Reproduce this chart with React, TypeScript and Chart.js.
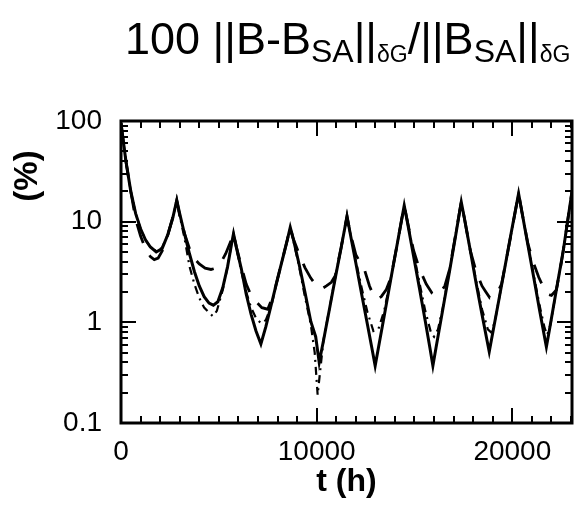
import React, { useEffect, useRef } from "react";
import { Chart, registerables } from "chart.js";

Chart.register(...registerables);

// ---------- data ----------
const solidT = [0,250,500,750,1000,1250,1500,1800,2100,2400,2650,2850,3000,3250,3500,3750,4000,4250,4500,4720,4950,5200,5450,5650,5750,5900,6150,6400,6650,6900,7150,7400,7700,8000,8300,8500,8650,8800,9100,9400,9700,9950,10130,10350,10650,10950,11250,11550,11700,12000,12300,12600,12850,12990,13150,13450,13800,14150,14475,14650,14950,15250,15550,15800,15940,16100,16450,16800,17100,17390,17550,17850,18150,18450,18700,18820,18950,19300,19650,19950,20320,20500,20800,21100,21400,21620,21740,21900,22250,22600,23050];
const solidV = [95,40,20,12,8.5,6.6,5.6,5.0,5.4,7.5,11,16.3,12,7.5,4.8,3.2,2.3,1.8,1.55,1.48,1.6,2.2,3.6,6,7.6,5.5,3.4,1.9,1.2,0.82,0.61,0.9,1.55,2.7,4.6,6.6,8.8,6.8,3.8,2.0,1.02,0.72,0.40,0.66,1.34,2.75,5.5,11.3,7.9,3.9,1.9,0.94,0.52,0.37,0.55,1.15,2.75,6.5,14.5,9.6,4.6,2.2,1.03,0.54,0.37,0.56,1.36,3.3,7.2,15.7,10.8,5.2,2.45,1.2,0.67,0.51,0.7,1.62,3.8,7.9,19,12.2,5.8,2.75,1.3,0.76,0.57,0.85,2.1,5.1,20];

const dashT = [0,250,500,750,1000,1250,1500,1700,1900,2150,2400,2650,2850,3000,3250,3500,3750,4000,4300,4600,4850,5100,5350,5600,5750,5900,6150,6400,6650,6900,7200,7500,7800,8000,8300,8500,8650,8800,9100,9400,9700,10000,10250,10500,10750,10950,11250,11550,11700,12000,12300,12450,12700,12900,13100,13300,13550,13800,14150,14475,14650,14950,15250,15600,15900,16100,16300,16550,16800,17100,17390,17550,17850,18150,18450,18650,18850,19050,19250,19450,19650,19950,20320,20500,20800,21100,21350,21600,21800,22000,22250,22450,22600,23050];
const dashV = [95,40,20,10.5,7.2,5.4,4.5,4.2,4.35,5.3,7.5,11,16.3,11.5,7.6,5.4,4.3,3.8,3.45,3.35,3.45,3.9,4.8,6.3,7.6,5.6,3.6,2.4,1.85,1.6,1.4,1.35,1.9,2.7,4.6,6.6,8.8,6.8,4.8,3.5,2.75,2.3,2.15,2.3,2.5,2.9,5.5,11.3,8,4.7,3.7,3.3,2.3,1.85,1.7,1.8,2.1,2.8,6.5,14.5,9.8,5.2,3.4,2.4,1.95,1.85,1.95,2.3,3.4,7.4,15.7,10.8,5.2,3.2,2.3,2.0,1.75,1.8,2.0,2.4,3.8,7.8,19,12.2,6.0,3.8,2.8,2.2,1.9,1.85,2.1,3.4,5.1,20];

const dotT = [0,250,500,750,1000,1250,1500,1800,2100,2400,2650,2850,3000,3250,3500,3750,4000,4250,4500,4700,4900,5200,5450,5650,5750,5900,6150,6400,6650,6900,7150,7400,7700,8000,8300,8500,8650,8800,9100,9400,9700,9900,10050,10200,10350,10650,10950,11250,11550,11700,12000,12300,12600,12900,13150,13450,13800,14150,14475,14650,14950,15250,15550,15850,16000,16200,16450,16800,17100,17390,17550,17850,18150,18450,18750,18900,19100,19300,19650,19950,20320,20500,20800,21100,21400,21650,21780,21950,22250,22600,23050];
const dotV = [95,40,20,12,8.5,6.6,5.6,5.1,5.5,7.5,11,16.3,11.5,6.8,3.6,2.4,1.75,1.4,1.25,1.15,1.3,2.1,3.6,6,7.6,5.4,3.2,2.0,1.4,1.1,0.98,1.05,1.5,2.7,4.6,6.6,8.8,6.6,3.6,1.8,0.95,0.5,0.19,0.36,0.67,1.36,2.77,5.6,11.3,8,4.1,2.2,1.25,0.82,0.85,1.3,2.8,6.5,14.5,9.8,4.9,2.5,1.3,0.78,0.72,0.85,1.4,3.4,7.4,15.7,10.8,5.2,2.6,1.35,0.85,0.8,1.0,1.62,3.8,7.8,19,12.2,5.9,2.9,1.45,0.88,0.75,0.95,2.1,5.1,20];

const xTicks = [0, 10000, 20000];
const yTicks = [0.1, 1, 10, 100];
const xMin = 0;
const xMax = 23050;
const yMin = 0.1;
const yMax = 100;
const xMinorStep = 1000;
const xLabel = "t (h)";
const yLabel = "(%)";
const titleParts = [
  { t: "100 ||B-B", s: 0 },
  { t: "SA", s: 1 },
  { t: "||", s: 0 },
  { t: "δG", s: 2 },
  { t: "/||B", s: 0 },
  { t: "SA", s: 1 },
  { t: "||", s: 0 },
  { t: "δG", s: 2 },
];

const FAMILY = "'Liberation Sans', Arial, Helvetica, sans-serif";

const toXY = (ts: number[], vs: number[]) => ts.map((t, i) => ({ x: t, y: vs[i] }));

const decorPlugin = {
  id: "decor",
  afterDraw(chart: any) {
    const { ctx, chartArea: a, scales } = chart;
    const x = scales.x;
    const y = scales.y;
    ctx.save();
    ctx.strokeStyle = "#000";
    ctx.lineCap = "butt";
    ctx.lineWidth = 2;
    for (let t = xMinorStep; t < xMax; t += xMinorStep) {
      const px = Math.round(x.getPixelForValue(t));
      const major = xTicks.includes(t);
      const len = major ? 15 : 7;
      ctx.beginPath();
      ctx.moveTo(px, a.bottom);
      ctx.lineTo(px, a.bottom - len);
      ctx.moveTo(px, a.top);
      ctx.lineTo(px, a.top + len);
      ctx.stroke();
    }
    for (let d = 0; d < yTicks.length - 1; d++) {
      const base = yTicks[d];
      for (let k = 1; k <= 9; k++) {
        const v = base * k;
        const py = Math.round(y.getPixelForValue(v));
        const len = k === 1 ? 15 : 7;
        ctx.beginPath();
        ctx.moveTo(a.left, py);
        ctx.lineTo(a.left + len, py);
        ctx.moveTo(a.right, py);
        ctx.lineTo(a.right - len, py);
        ctx.stroke();
      }
    }
    ctx.lineWidth = 3;
    ctx.strokeRect(a.left, a.top, a.right - a.left, a.bottom - a.top);

    ctx.fillStyle = "#000";
    ctx.textBaseline = "alphabetic";
    ctx.textAlign = "left";
    const sizes = [45, 32, 23];
    const shifts = [0, 8, 8];
    let cx = 125;
    const baseY = 54;
    for (const p of titleParts) {
      ctx.font = `${sizes[p.s]}px ${FAMILY}`;
      ctx.fillText(p.t, cx, baseY + shifts[p.s]);
      cx += ctx.measureText(p.t).width;
    }

    ctx.save();
    ctx.translate(28, 176);
    ctx.rotate(-Math.PI / 2);
    ctx.font = `bold 33px ${FAMILY}`;
    ctx.textAlign = "center";
    ctx.textBaseline = "middle";
    ctx.fillText(yLabel, 0, 0);
    ctx.restore();

    ctx.restore();
  },
};

export default function App() {
  const ref = useRef<HTMLCanvasElement>(null);
  useEffect(() => {
    if (!ref.current) return;
    const chart = new Chart(ref.current, {
      type: "line",
      data: {
        datasets: [
          {
            data: toXY(solidT, solidV),
            borderColor: "#000",
            borderWidth: 3,
            pointRadius: 0,
            fill: false,
            tension: 0,
          },
          {
            data: toXY(dashT, dashV),
            borderColor: "#000",
            borderWidth: 2.8,
            borderDash: [20, 14],
            pointRadius: 0,
            fill: false,
            tension: 0,
          },
          {
            data: toXY(dotT, dotV),
            borderColor: "#000",
            borderWidth: 2.2,
            borderDash: [8, 5, 2, 5],
            pointRadius: 0,
            fill: false,
            tension: 0,
          },
        ],
      },
      options: {
        responsive: false,
        animation: false,
        devicePixelRatio: 1,
        layout: { padding: { top: 121, right: 2, left: 0, bottom: 0 } },
        plugins: {
          legend: { display: false },
          tooltip: { enabled: false },
          title: { display: false },
        },
        scales: {
          x: {
            type: "linear",
            min: xMin,
            max: xMax,
            grid: { display: false, drawTicks: false },
            border: { display: false },
            afterBuildTicks: (s: any) => {
              s.ticks = xTicks.map((v) => ({ value: v }));
            },
            afterFit: (s: any) => {
              s.height = 89;
            },
            ticks: {
              color: "#000",
              font: { size: 28, family: FAMILY },
              padding: 12,
              maxRotation: 0,
              autoSkip: false,
              callback: (v: any) => String(v),
            },
            title: {
              display: true,
              text: xLabel,
              color: "#000",
              font: { size: 32, weight: "bold", family: FAMILY },
              padding: { top: 0, bottom: 11 },
            },
          },
          y: {
            type: "logarithmic",
            min: yMin,
            max: yMax,
            grid: { display: false, drawTicks: false },
            border: { display: false },
            afterBuildTicks: (s: any) => {
              s.ticks = yTicks.map((v) => ({ value: v }));
            },
            afterFit: (s: any) => {
              s.width = 121;
            },
            ticks: {
              color: "#000",
              font: { size: 28, family: FAMILY },
              padding: 19,
              autoSkip: false,
              callback: (v: any) => String(v),
            },
          },
        },
      },
      plugins: [decorPlugin],
    } as any);
    return () => chart.destroy();
  }, []);
  return (
    <div style={{ position: "absolute", left: 0, top: 0, width: 574, height: 512, background: "#fff" }}>
      <canvas ref={ref} width={574} height={512} style={{ display: "block", width: 574, height: 512 }} />
    </div>
  );
}
